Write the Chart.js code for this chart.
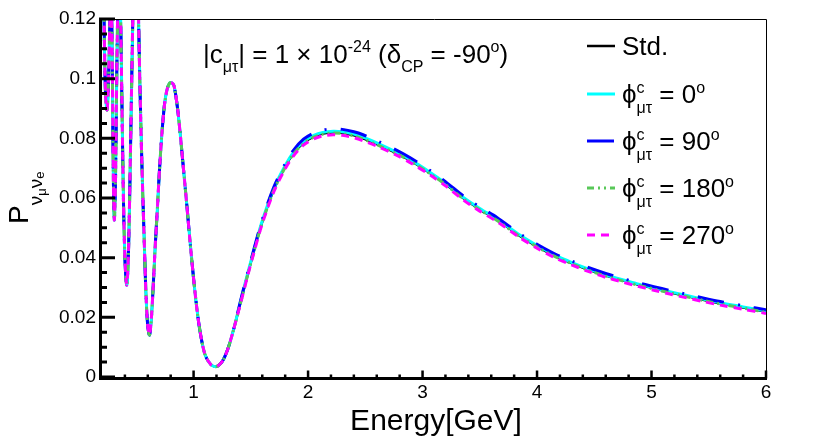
<!DOCTYPE html>
<html>
<head>
<meta charset="utf-8">
<script src="https://cdn.jsdelivr.net/npm/chart.js@4.4.1/dist/chart.umd.min.js"></script>
<style>
  html, body { margin: 0; padding: 0; background: #fff; overflow: hidden; }
</style>
</head>
<body>
<canvas id="probChart" width="830" height="447"></canvas>
<script>
// low energy part: all five curves lie on top of each other here
const energyLow = [0.200, 0.212, 0.222, 0.232, 0.244, 0.256, 0.268, 0.278, 0.288, 0.298,
  0.3075, 0.318, 0.330, 0.342, 0.352, 0.362, 0.374, 0.388, 0.402, 0.416,
  0.430, 0.446, 0.462, 0.478, 0.495, 0.512, 0.530, 0.548, 0.567, 0.585,
  0.600, 0.615, 0.630, 0.648, 0.665, 0.683, 0.700, 0.722, 0.745, 0.766,
  0.790, 0.810, 0.830, 0.860, 0.882, 0.911, 0.940, 0.970, 1.000, 1.030,
  1.060, 1.100, 1.150, 1.200, 1.250, 1.300, 1.350];
const probLow = [0.160, 0.135, 0.110, 0.094, 0.0895, 0.098, 0.118, 0.128, 0.112, 0.070,
  0.0526, 0.066, 0.105, 0.130, 0.136, 0.122, 0.092, 0.058, 0.038, 0.0308,
  0.040, 0.070, 0.105, 0.135, 0.145, 0.132, 0.100, 0.072, 0.048, 0.027,
  0.017, 0.0141, 0.019, 0.031, 0.044, 0.056, 0.068, 0.081, 0.091, 0.096,
  0.0985, 0.0986, 0.0975, 0.090, 0.082, 0.070, 0.058, 0.045, 0.033, 0.0225,
  0.0145, 0.0075, 0.0042, 0.0035, 0.0052, 0.0095, 0.0160];

// above ~1.4 GeV the curves separate a little
const energyHigh = [1.41, 1.47, 1.53, 1.60, 1.70, 1.80, 1.87, 1.96, 2.05, 2.13,
  2.22, 2.30, 2.40, 2.48, 2.60, 2.78, 2.90, 3.07, 3.20, 3.36,
  3.50, 3.65, 3.85, 4.00, 4.15, 4.30, 4.44, 4.60, 4.73, 4.87,
  5.02, 5.16, 5.31, 5.45, 5.60, 5.80, 6.00];
const probStd = [0.0250, 0.0340, 0.0426, 0.0520, 0.0627, 0.0705, 0.0748, 0.0785, 0.0806, 0.0816,
  0.0820, 0.0818, 0.0810, 0.0800, 0.0781, 0.0749, 0.0724, 0.0682, 0.0647, 0.0598,
  0.0562, 0.0527, 0.0473, 0.0438, 0.0407, 0.0382, 0.0361, 0.0340, 0.0326, 0.0311,
  0.0297, 0.0284, 0.0271, 0.0259, 0.0247, 0.0233, 0.0219];
const probPhi0 = [0.0253, 0.0344, 0.0430, 0.0524, 0.0631, 0.0709, 0.0752, 0.0789, 0.0810, 0.0820,
  0.0824, 0.0822, 0.0814, 0.0804, 0.0785, 0.0752, 0.0727, 0.0685, 0.0650, 0.0601,
  0.0565, 0.0530, 0.0476, 0.0441, 0.0410, 0.0384, 0.0363, 0.0342, 0.0328, 0.0313,
  0.0299, 0.0286, 0.0273, 0.0261, 0.0249, 0.0235, 0.0221];
const probPhi90 = [0.0255, 0.0346, 0.0433, 0.0528, 0.0636, 0.0715, 0.0759, 0.0797, 0.0818, 0.0828,
  0.0832, 0.0830, 0.0822, 0.0812, 0.0792, 0.0759, 0.0733, 0.0691, 0.0655, 0.0606,
  0.0570, 0.0535, 0.0480, 0.0445, 0.0414, 0.0389, 0.0368, 0.0347, 0.0332, 0.0317,
  0.0303, 0.0290, 0.0277, 0.0265, 0.0253, 0.0239, 0.0225];
const probPhi180 = [0.0248, 0.0338, 0.0424, 0.0518, 0.0625, 0.0703, 0.0746, 0.0783, 0.0804, 0.0814,
  0.0818, 0.0816, 0.0808, 0.0798, 0.0779, 0.0747, 0.0722, 0.0680, 0.0645, 0.0596,
  0.0560, 0.0525, 0.0471, 0.0436, 0.0405, 0.0380, 0.0359, 0.0338, 0.0324, 0.0309,
  0.0295, 0.0282, 0.0269, 0.0257, 0.0245, 0.0231, 0.0217];
const probPhi270 = [0.0246, 0.0336, 0.0421, 0.0514, 0.0620, 0.0698, 0.0740, 0.0777, 0.0798, 0.0808,
  0.0812, 0.0810, 0.0802, 0.0792, 0.0774, 0.0742, 0.0717, 0.0676, 0.0641, 0.0592,
  0.0556, 0.0521, 0.0467, 0.0432, 0.0401, 0.0376, 0.0355, 0.0334, 0.0320, 0.0305,
  0.0291, 0.0278, 0.0265, 0.0253, 0.0241, 0.0227, 0.0213];

const phaseLabels = ["0", "90", "180", "270"];
const xTicks = [1, 2, 3, 4, 5, 6];
const xTickLabels = ["1", "2", "3", "4", "5", "6"];
const yTicks = [0, 0.02, 0.04, 0.06, 0.08, 0.1, 0.12];
const yTickLabels = ["0", "0.02", "0.04", "0.06", "0.08", "0.1", "0.12"];

const FONT = '"Liberation Sans", Arial, Helvetica, sans-serif';

const toPoints = (high) =>
  energyLow.map((e, i) => ({ x: e, y: probLow[i] }))
    .concat(energyHigh.map((e, i) => ({ x: e, y: high[i] })));

// draws text pieces one after another; stack:true puts a piece under the previous one
function richText(ctx, x, y, parts) {
  let cx = x, lastStart = x;
  parts.forEach((p) => {
    ctx.font = p.size + "px " + FONT;
    const start = p.stack ? lastStart : cx;
    ctx.fillText(p.t, start, y + (p.dy || 0));
    const w = ctx.measureText(p.t).width;
    if (p.stack) {
      cx = Math.max(cx, start + w);
    } else {
      lastStart = start;
      cx = start + w;
    }
  });
  return cx;
}

const rootStyle = {
  id: "rootStyle",
  afterDraw(chart) {
    const { ctx, chartArea: a, scales } = chart;
    const xs = scales.x, ys = scales.y;
    ctx.save();
    ctx.fillStyle = "#000";
    ctx.strokeStyle = "#000";

    // frame
    ctx.lineWidth = 1;
    ctx.beginPath();
    ctx.moveTo(a.left, a.top + 0.5);
    ctx.lineTo(a.right + 0.5, a.top + 0.5);
    ctx.lineTo(a.right + 0.5, a.bottom);
    ctx.stroke();

    // thick axes
    ctx.lineWidth = 3;
    ctx.beginPath();
    ctx.moveTo(a.left - 1.5, a.top);
    ctx.lineTo(a.left - 1.5, a.bottom + 1.5);
    ctx.lineTo(a.right + 1, a.bottom + 1.5);
    ctx.stroke();

    // y ticks, pointing inside
    ctx.beginPath();
    for (let k = 0; k <= 24; k++) {
      const py = ys.getPixelForValue(k * 0.005);
      const len = k % 4 === 0 ? 16 : 8;
      ctx.moveTo(a.left - 3, py);
      ctx.lineTo(a.left - 3 + len, py);
    }
    ctx.stroke();

    // x ticks
    ctx.lineWidth = 2.5;
    ctx.beginPath();
    for (let k = 2; k <= 30; k++) {
      const px = xs.getPixelForValue(k * 0.2);
      const len = k % 5 === 0 ? 8 : 4;
      ctx.moveTo(px, a.bottom + 1.5);
      ctx.lineTo(px, a.bottom + 1.5 - len);
    }
    ctx.stroke();

    // tick labels
    ctx.font = "19px " + FONT;
    ctx.textAlign = "right";
    ctx.textBaseline = "middle";
    yTicks.forEach((v, i) => ctx.fillText(yTickLabels[i], a.left - 6, ys.getPixelForValue(v)));
    ctx.textAlign = "center";
    ctx.textBaseline = "alphabetic";
    xTicks.forEach((v, i) => ctx.fillText(xTickLabels[i], xs.getPixelForValue(v), a.bottom + 21));

    // axis titles
    ctx.font = "30px " + FONT;
    ctx.fillText("Energy[GeV]", (a.left + a.right) / 2 + 2, a.bottom + 53);
    ctx.textAlign = "left";
    ctx.save();
    ctx.translate(28, 224);
    ctx.rotate(-Math.PI / 2);
    richText(ctx, 0, 0, [
      { t: "P", size: 28 },
      { t: "\u03bd", size: 19, dy: 14 },
      { t: "\u03bc", size: 13, dy: 18 },
      { t: "\u03bd", size: 19, dy: 14 },
      { t: "e", size: 13, dy: 16 },
    ]);
    ctx.restore();

    // annotation
    richText(ctx, 203, 63, [
      { t: "|c", size: 26 },
      { t: "\u03bc\u03c4", size: 16, dy: 9 },
      { t: "| = 1 \u00d7 10", size: 26 },
      { t: "-24", size: 16, dy: -11 },
      { t: " (\u03b4", size: 26 },
      { t: "CP", size: 16, dy: 9 },
      { t: " = -90", size: 26 },
      { t: "o", size: 16, dy: -11 },
      { t: ")", size: 26 },
    ]);

    // legend
    const rows = [55, 103, 150, 197, 244];
    chart.data.datasets.forEach((ds, i) => {
      const by = rows[i];
      ctx.save();
      ctx.strokeStyle = ds.borderColor;
      ctx.lineWidth = ds.borderWidth;
      ctx.setLineDash(ds.borderDash || []);
      ctx.beginPath();
      ctx.moveTo(587, by - 9);
      ctx.lineTo(615, by - 9);
      ctx.stroke();
      ctx.restore();
      if (i === 0) {
        richText(ctx, 622, by, [{ t: "Std.", size: 26 }]);
      } else {
        richText(ctx, 622, by, [
          { t: "\u03d5", size: 26 },
          { t: "c", size: 16, dy: -10 },
          { t: "\u03bc\u03c4", size: 16, dy: 10, stack: true },
          { t: " = " + phaseLabels[i - 1], size: 26 },
          { t: "o", size: 16, dy: -10 },
        ]);
      }
    });
    ctx.restore();
  },
};

new Chart(document.getElementById("probChart"), {
  type: "line",
  data: {
    datasets: [
      { label: "Std.", data: toPoints(probStd), borderColor: "#000000", borderWidth: 2.5, order: 5 },
      { label: "phi 0", data: toPoints(probPhi0), borderColor: "#00ffff", borderWidth: 3, order: 4 },
      { label: "phi 90", data: toPoints(probPhi90), borderColor: "#0000ff", borderWidth: 3, borderDash: [27, 14, 2, 14], order: 3 },
      { label: "phi 180", data: toPoints(probPhi180), borderColor: "#58c858", borderWidth: 3, borderDash: [7, 4, 2, 4, 2, 4], order: 2 },
      { label: "phi 270", data: toPoints(probPhi270), borderColor: "#ff00ff", borderWidth: 3, borderDash: [8, 6], order: 1 },
    ],
  },
  options: {
    responsive: false,
    animation: false,
    devicePixelRatio: 1,
    layout: { padding: { left: 102, right: 64, top: 19, bottom: 70 } },
    elements: {
      point: { radius: 0 },
      line: { tension: 0.3, borderCapStyle: "butt" },
    },
    datasets: { line: { clip: 0 } },
    plugins: { legend: { display: false }, tooltip: { enabled: false } },
    scales: {
      x: { type: "linear", min: 0.2, max: 6, display: false },
      y: { min: 0, max: 0.12, display: false },
    },
  },
  plugins: [rootStyle],
});
</script>
</body>
</html>
